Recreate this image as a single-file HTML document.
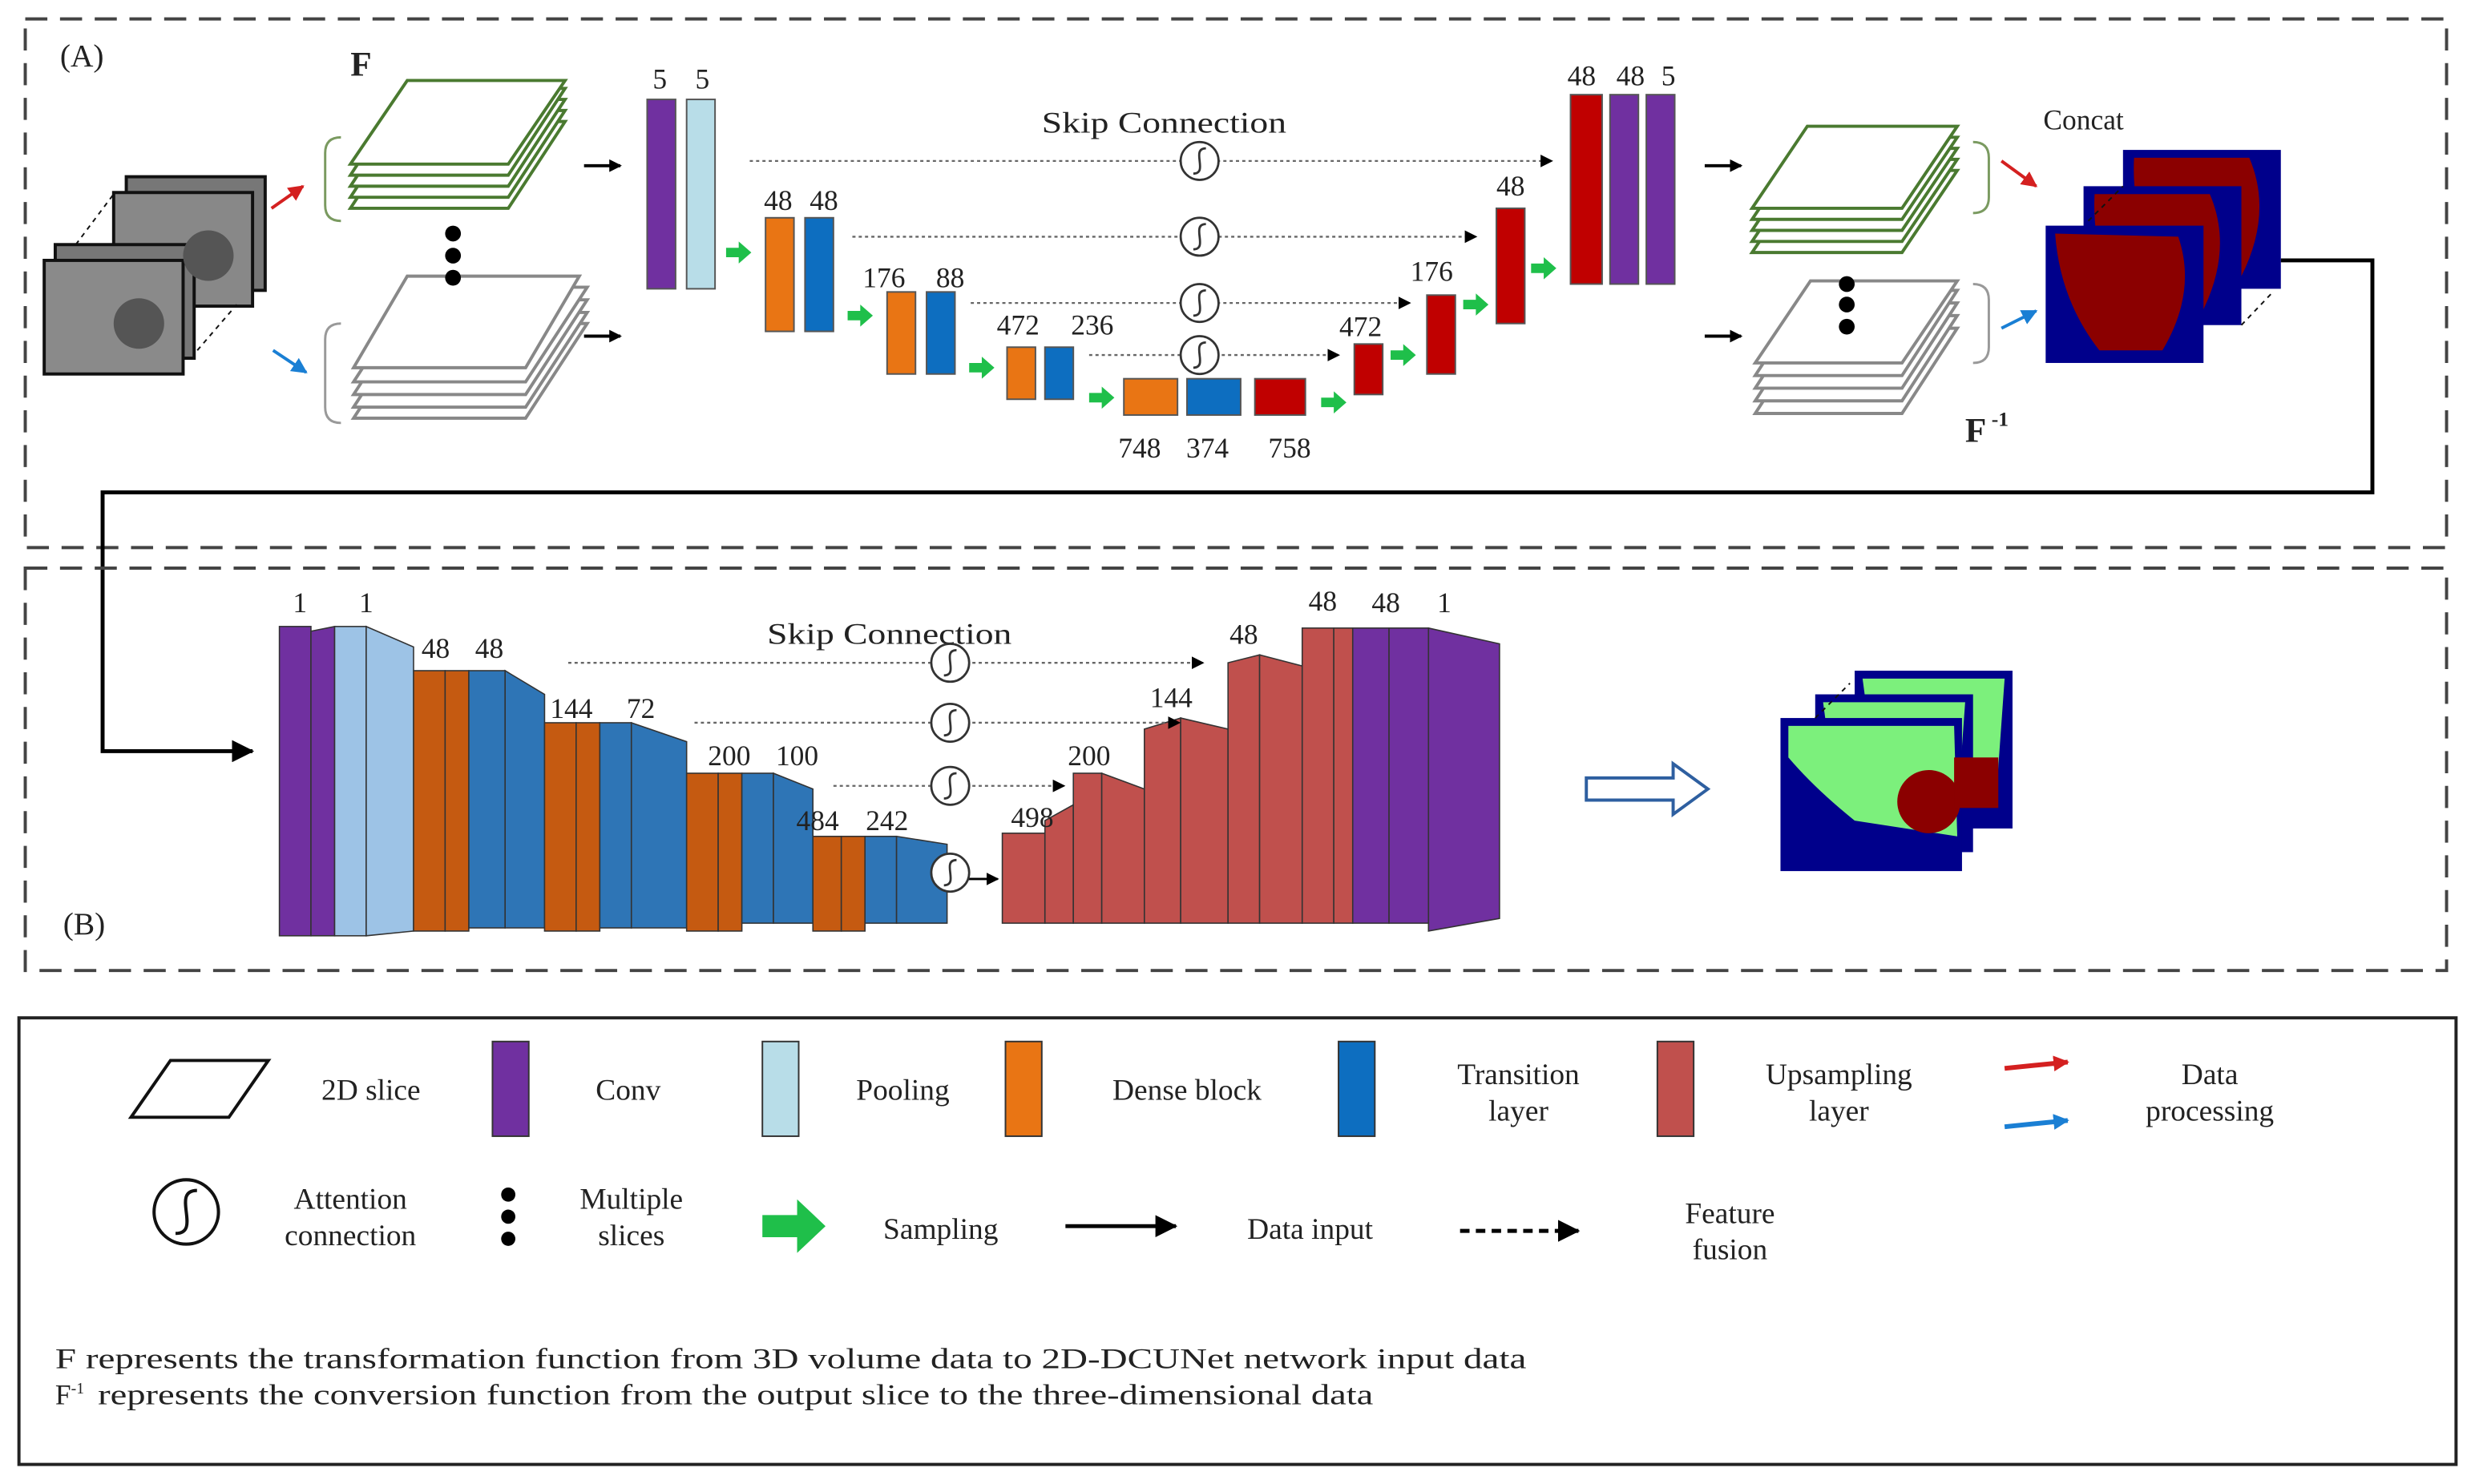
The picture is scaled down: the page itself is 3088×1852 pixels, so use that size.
<!DOCTYPE html>
<html><head><meta charset="utf-8"><style>
html,body{margin:0;padding:0;background:#fff;}
svg{display:block;}
text{font-family:"Liberation Serif",serif;fill:#222;}
</style></head><body>
<svg width="3088" height="1852" viewBox="0 0 1568 940.4" xmlns="http://www.w3.org/2000/svg">
<defs>
<marker id="ah" markerWidth="8" markerHeight="8" refX="7" refY="4" orient="auto" markerUnits="userSpaceOnUse"><path d="M0,0 L8,4 L0,8 z" fill="#000"/></marker>
<marker id="ahb" markerWidth="14" markerHeight="14" refX="13" refY="7" orient="auto" markerUnits="userSpaceOnUse"><path d="M0,0 L14,7 L0,14 z" fill="#000"/></marker>
<marker id="ahr" markerWidth="10" markerHeight="10" refX="9" refY="5" orient="auto" markerUnits="userSpaceOnUse"><path d="M0,0 L10,5 L0,10 z" fill="#d42020"/></marker>
<marker id="ahl" markerWidth="10" markerHeight="10" refX="9" refY="5" orient="auto" markerUnits="userSpaceOnUse"><path d="M0,0 L10,5 L0,10 z" fill="#1a7fd4"/></marker>
<g id="garrow"><path d="M0,-3 L8,-3 L8,-7 L16,0 L8,7 L8,3 L0,3 z" fill="#1fbf4a"/></g>
<g id="att"><circle r="12" fill="#fff" stroke="#333" stroke-width="1.4"/><path d="M4,-8 C-6,-8 6,8 -4,8" fill="none" stroke="#333" stroke-width="1.4"/></g>
</defs>

<rect x="16" y="12" width="1534" height="335" fill="none" stroke="#444" stroke-width="2" stroke-dasharray="14,8"/>
<text x="38" y="42" font-size="20">(A)</text>
<text x="222" y="48" font-size="22" font-weight="bold">F</text>

<g>
<rect x="80" y="112" width="88" height="72" fill="#777" stroke="#111" stroke-width="2"/>
<rect x="72" y="122" width="88" height="72" fill="#888" stroke="#111" stroke-width="2"/>
<rect x="35" y="155" width="88" height="72" fill="#777" stroke="#111" stroke-width="2"/>
<rect x="28" y="165" width="88" height="72" fill="#8a8a8a" stroke="#111" stroke-width="2"/>
<circle cx="88" cy="205" r="16" fill="#555"/><circle cx="132" cy="162" r="16" fill="#555"/>
<line x1="48" y1="155" x2="72" y2="123" stroke="#111" stroke-dasharray="3,3"/>
<line x1="125" y1="222" x2="150" y2="193" stroke="#111" stroke-dasharray="3,3"/>
</g>
<line x1="172" y1="132" x2="192" y2="118" stroke="#d42020" stroke-width="2" marker-end="url(#ahr)"/>
<line x1="173" y1="222" x2="194" y2="236" stroke="#1a7fd4" stroke-width="2" marker-end="url(#ahl)"/>

<g fill="#fff" stroke="#4a7a30" stroke-width="2">
<path d="M222,132 L322,132 L358,77 L258,77 z"/><path d="M222,125 L322,125 L358,70 L258,70 z"/><path d="M222,118 L322,118 L358,63 L258,63 z"/><path d="M222,111 L322,111 L358,56 L258,56 z"/><path d="M222,104 L322,104 L358,51 L258,51 z"/>
</g>
<path d="M216,87 Q206,87 206,97 L206,130 Q206,140 216,140" fill="none" stroke="#7a9a60" stroke-width="1.5"/>
<g fill="#fff" stroke="#888" stroke-width="2">
<path d="M224,265 L333,265 L372,205 L263,205 z"/><path d="M224,258 L333,258 L372,198 L263,198 z"/><path d="M224,250 L333,250 L372,190 L263,190 z"/><path d="M224,242 L333,242 L372,182 L263,182 z"/><path d="M224,233 L333,233 L367,175 L258,175 z"/>
</g>
<path d="M216,205 Q206,205 206,215 L206,258 Q206,268 216,268" fill="none" stroke="#999" stroke-width="1.5"/>
<g fill="#000"><circle cx="287" cy="148" r="5"/><circle cx="287" cy="162" r="5"/><circle cx="287" cy="176" r="5"/></g>
<line x1="370" y1="105" x2="393" y2="105" stroke="#000" stroke-width="2" marker-end="url(#ah)"/>
<line x1="370" y1="213" x2="393" y2="213" stroke="#000" stroke-width="2" marker-end="url(#ah)"/>

<g stroke="#555" stroke-width="1">
<rect x="410" y="63" width="18" height="120" fill="#7030a0"/><rect x="435" y="63" width="18" height="120" fill="#b8dde8"/>
<rect x="485" y="138" width="18" height="72" fill="#e97514"/><rect x="510" y="138" width="18" height="72" fill="#0d6ec0"/>
<rect x="562" y="185" width="18" height="52" fill="#e97514"/><rect x="587" y="185" width="18" height="52" fill="#0d6ec0"/>
<rect x="638" y="220" width="18" height="33" fill="#e97514"/><rect x="662" y="220" width="18" height="33" fill="#0d6ec0"/>
<rect x="712" y="240" width="34" height="23" fill="#e97514"/><rect x="752" y="240" width="34" height="23" fill="#0d6ec0"/>
<rect x="795" y="240" width="32" height="23" fill="#c00000"/>
</g>
<g stroke="#555" stroke-width="1">
<rect x="858" y="218" width="18" height="32" fill="#c00000"/>
<rect x="904" y="187" width="18" height="50" fill="#c00000"/>
<rect x="948" y="132" width="18" height="73" fill="#c00000"/>
<rect x="995" y="60" width="20" height="120" fill="#c00000"/><rect x="1020" y="60" width="18" height="120" fill="#7030a0"/><rect x="1043" y="60" width="18" height="120" fill="#7030a0"/>
</g>
<g>
<use href="#garrow" x="460" y="160"/><use href="#garrow" x="537" y="200"/><use href="#garrow" x="614" y="233"/><use href="#garrow" x="690" y="252"/>
<use href="#garrow" x="837" y="255"/><use href="#garrow" x="881" y="225"/><use href="#garrow" x="927" y="193"/><use href="#garrow" x="970" y="170"/>
</g>
<g font-size="18" text-anchor="middle">
<text x="418" y="56">5</text><text x="445" y="56">5</text>
<text x="493" y="133">48</text><text x="522" y="133">48</text>
<text x="560" y="182">176</text><text x="602" y="182">88</text>
<text x="645" y="212">472</text><text x="692" y="212">236</text>
<text x="722" y="290">748</text><text x="765" y="290">374</text><text x="817" y="290">758</text>
<text x="862" y="213">472</text><text x="907" y="178">176</text><text x="957" y="124">48</text>
<text x="1002" y="54">48</text><text x="1033" y="54">48</text><text x="1057" y="54">5</text>
</g>
<text x="660" y="84" font-size="19" textLength="155" lengthAdjust="spacingAndGlyphs">Skip Connection</text>
<g stroke="#666" stroke-width="1.2" stroke-dasharray="2,2">
<line x1="475" y1="102" x2="983" y2="102" marker-end="url(#ah)"/><line x1="540" y1="150" x2="935" y2="150" marker-end="url(#ah)"/>
<line x1="615" y1="192" x2="893" y2="192" marker-end="url(#ah)"/><line x1="690" y1="225" x2="848" y2="225" marker-end="url(#ah)"/>
</g>
<use href="#att" x="760" y="102"/><use href="#att" x="760" y="150"/><use href="#att" x="760" y="192"/><use href="#att" x="760" y="225"/>

<line x1="1080" y1="105" x2="1103" y2="105" stroke="#000" stroke-width="2" marker-end="url(#ah)"/>
<line x1="1080" y1="213" x2="1103" y2="213" stroke="#000" stroke-width="2" marker-end="url(#ah)"/>
<g fill="#fff" stroke="#4a7a30" stroke-width="2">
<path d="M1110,160 L1205,160 L1240,108 L1145,108 z"/><path d="M1110,153 L1205,153 L1240,101 L1145,101 z"/><path d="M1110,146 L1205,146 L1240,94 L1145,94 z"/><path d="M1110,139 L1205,139 L1240,87 L1145,87 z"/><path d="M1110,132 L1205,132 L1240,80 L1145,80 z"/>
</g>
<g fill="#fff" stroke="#888" stroke-width="2">
<path d="M1112,262 L1205,262 L1240,208 L1147,208 z"/><path d="M1112,254 L1205,254 L1240,200 L1147,200 z"/><path d="M1112,246 L1205,246 L1240,192 L1147,192 z"/><path d="M1112,238 L1205,238 L1240,184 L1147,184 z"/><path d="M1112,230 L1205,230 L1240,178 L1147,178 z"/>
</g>
<g fill="#000"><circle cx="1170" cy="180" r="5"/><circle cx="1170" cy="193" r="5"/><circle cx="1170" cy="207" r="5"/></g>
<path d="M1250,90 Q1260,90 1260,100 L1260,125 Q1260,135 1250,135" fill="none" stroke="#7a9a60" stroke-width="1.5"/>
<path d="M1250,180 Q1260,180 1260,190 L1260,220 Q1260,230 1250,230" fill="none" stroke="#999" stroke-width="1.5"/>
<line x1="1268" y1="102" x2="1290" y2="118" stroke="#d42020" stroke-width="2" marker-end="url(#ahr)"/>
<line x1="1268" y1="208" x2="1290" y2="197" stroke="#1a7fd4" stroke-width="2" marker-end="url(#ahl)"/>
<text x="1320" y="82" font-size="18" text-anchor="middle">Concat</text>
<g>
<rect x="1345" y="95" width="100" height="88" fill="#00008b"/><path d="M1352,100 L1425,100 Q1440,135 1420,175 L1370,170 Q1350,140 1352,100z" fill="#8b0000"/>
<rect x="1320" y="118" width="100" height="88" fill="#00008b"/><path d="M1327,123 L1400,123 Q1415,158 1395,198 L1345,193 Q1325,163 1327,123z" fill="#8b0000"/>
<rect x="1296" y="143" width="100" height="87" fill="#00008b"/><path d="M1302,148 L1380,150 Q1392,185 1370,222 L1330,222 Q1305,190 1302,148z" fill="#8b0000"/>
<line x1="1323" y1="140" x2="1345" y2="118" stroke="#111" stroke-dasharray="3,3"/><line x1="1420" y1="206" x2="1440" y2="185" stroke="#111" stroke-dasharray="3,3"/>
</g>
<text x="1245" y="280" font-size="22" font-weight="bold">F<tspan font-size="13" dy="-10"> -1</tspan></text>
<path d="M1445,165 L1503,165 L1503,312 L65,312 L65,476 L160,476" fill="none" stroke="#000" stroke-width="2.5" marker-end="url(#ahb)"/>

<rect x="16" y="360" width="1534" height="255" fill="none" stroke="#444" stroke-width="2" stroke-dasharray="14,8"/>
<text x="40" y="592" font-size="20">(B)</text>
<g stroke="#333" stroke-width="0.8">
<rect x="177" y="397" width="20" height="196" fill="#7030a0"/><path d="M197,400 L212,397 L212,593 L197,593z" fill="#7030a0"/>
<rect x="212" y="397" width="20" height="196" fill="#9dc3e6"/><path d="M232,397 L262,410 L262,590 L232,593z" fill="#9dc3e6"/>
<rect x="262" y="425" width="20" height="165" fill="#c55a11"/><rect x="282" y="425" width="15" height="165" fill="#c55a11"/>
<rect x="297" y="425" width="23" height="163" fill="#2e75b6"/><path d="M320,425 L345,440 L345,588 L320,588z" fill="#2e75b6"/>
<rect x="345" y="458" width="20" height="132" fill="#c55a11"/><rect x="365" y="458" width="15" height="132" fill="#c55a11"/>
<rect x="380" y="458" width="20" height="130" fill="#2e75b6"/><path d="M400,458 L435,470 L435,588 L400,588z" fill="#2e75b6"/>
<rect x="435" y="490" width="20" height="100" fill="#c55a11"/><rect x="455" y="490" width="15" height="100" fill="#c55a11"/>
<rect x="470" y="490" width="20" height="95" fill="#2e75b6"/><path d="M490,490 L515,500 L515,585 L490,585z" fill="#2e75b6"/>
<rect x="515" y="530" width="18" height="60" fill="#c55a11"/><rect x="533" y="530" width="15" height="60" fill="#c55a11"/>
<rect x="548" y="530" width="20" height="55" fill="#2e75b6"/><path d="M568,530 L600,535 L600,585 L568,585z" fill="#2e75b6"/>
</g>
<line x1="612" y1="557" x2="632" y2="557" stroke="#000" stroke-width="1.5" marker-end="url(#ah)"/>
<g stroke="#333" stroke-width="0.8">
<rect x="635" y="528" width="27" height="57" fill="#c0504d"/>
<path d="M662,520 L680,510 L680,585 L662,585z" fill="#c0504d"/><rect x="680" y="490" width="18" height="95" fill="#c0504d"/>
<path d="M698,490 L725,500 L725,585 L698,585z" fill="#c0504d"/>
<path d="M725,462 L748,455 L748,585 L725,585z" fill="#c0504d"/><path d="M748,455 L778,462 L778,585 L748,585z" fill="#c0504d"/>
<path d="M778,420 L798,415 L798,585 L778,585z" fill="#c0504d"/><path d="M798,415 L825,422 L825,585 L798,585z" fill="#c0504d"/>
<rect x="825" y="398" width="20" height="187" fill="#c0504d"/><rect x="845" y="398" width="12" height="187" fill="#c0504d"/>
<rect x="857" y="398" width="23" height="187" fill="#7030a0"/><rect x="880" y="398" width="25" height="187" fill="#7030a0"/>
<path d="M905,398 L950,408 L950,582 L905,590z" fill="#7030a0"/>
</g>
<g font-size="18" text-anchor="middle">
<text x="190" y="388">1</text><text x="232" y="388">1</text>
<text x="276" y="417">48</text><text x="310" y="417">48</text>
<text x="362" y="455">144</text><text x="406" y="455">72</text>
<text x="462" y="485">200</text><text x="505" y="485">100</text>
<text x="518" y="526">484</text><text x="562" y="526">242</text>
<text x="654" y="524">498</text><text x="690" y="485">200</text><text x="742" y="448">144</text>
<text x="788" y="408">48</text><text x="838" y="387">48</text><text x="878" y="388">48</text><text x="915" y="388">1</text>
</g>
<text x="486" y="408" font-size="19" textLength="155" lengthAdjust="spacingAndGlyphs">Skip Connection</text>
<g stroke="#666" stroke-width="1.2" stroke-dasharray="2,2">
<line x1="360" y1="420" x2="762" y2="420" marker-end="url(#ah)"/><line x1="440" y1="458" x2="747" y2="458" marker-end="url(#ah)"/>
<line x1="528" y1="498" x2="674" y2="498" marker-end="url(#ah)"/>
</g>
<use href="#att" x="602" y="420"/><use href="#att" x="602" y="458"/><use href="#att" x="602" y="498"/><use href="#att" x="602" y="553"/>
<path d="M1005,493 L1060,493 L1060,484 L1082,500 L1060,516 L1060,507 L1005,507 z" fill="#fff" stroke="#2e5fa0" stroke-width="2"/>
<g>
<rect x="1175" y="425" width="100" height="100" fill="#00008b"/><path d="M1180,430 L1270,430 L1265,500 L1190,505z" fill="#7cf07c"/>
<rect x="1150" y="440" width="100" height="100" fill="#00008b"/><path d="M1155,445 L1245,445 L1240,515 L1165,520z" fill="#7cf07c"/>
<rect x="1128" y="455" width="115" height="97" fill="#00008b"/><path d="M1133,460 L1238,460 L1240,530 L1175,520 Q1150,500 1133,480z" fill="#7cf07c"/>
<circle cx="1222" cy="508" r="20" fill="#8b0000"/><rect x="1238" y="480" width="28" height="32" fill="#8b0000"/>
<line x1="1150" y1="455" x2="1172" y2="433" stroke="#111" stroke-dasharray="3,3"/>
</g>

<rect x="12" y="645" width="1544" height="283" fill="#fff" stroke="#222" stroke-width="2"/>
<g font-size="19" text-anchor="middle">
<path d="M83,708 L145,708 L170,672 L108,672z" fill="#fff" stroke="#111" stroke-width="2"/><text x="235" y="697">2D slice</text>
<rect x="312" y="660" width="23" height="60" fill="#7030a0" stroke="#333"/><text x="398" y="697">Conv</text>
<rect x="483" y="660" width="23" height="60" fill="#b8dde8" stroke="#333"/><text x="572" y="697">Pooling</text>
<rect x="637" y="660" width="23" height="60" fill="#e97514" stroke="#333"/><text x="752" y="697">Dense block</text>
<rect x="848" y="660" width="23" height="60" fill="#0d6ec0" stroke="#333"/><text x="962" y="687">Transition</text><text x="962" y="710">layer</text>
<rect x="1050" y="660" width="23" height="60" fill="#c0504d" stroke="#333"/><text x="1165" y="687">Upsampling</text><text x="1165" y="710">layer</text>
<line x1="1270" y1="677" x2="1310" y2="673" stroke="#d42020" stroke-width="3" marker-end="url(#ahr)"/>
<line x1="1270" y1="714" x2="1310" y2="710" stroke="#1a7fd4" stroke-width="3" marker-end="url(#ahl)"/>
<text x="1400" y="687">Data</text><text x="1400" y="710">processing</text>
</g>
<g font-size="19" text-anchor="middle">
<g transform="translate(118,768) scale(1.7)"><circle r="12" fill="#fff" stroke="#111" stroke-width="1.2"/><path d="M4,-8 C-6,-8 6,8 -4,8" fill="none" stroke="#111" stroke-width="1.2"/></g>
<text x="222" y="766">Attention</text><text x="222" y="789">connection</text>
<circle cx="322" cy="757" r="4.5" fill="#000"/><circle cx="322" cy="771" r="4.5" fill="#000"/><circle cx="322" cy="785" r="4.5" fill="#000"/>
<text x="400" y="766">Multiple</text><text x="400" y="789">slices</text>
<path d="M483,770 L505,770 L505,760 L523,777 L505,794 L505,784 L483,784z" fill="#1fbf4a"/><text x="596" y="785">Sampling</text>
<line x1="675" y1="777" x2="745" y2="777" stroke="#000" stroke-width="2.5" marker-end="url(#ahb)"/><text x="830" y="785">Data input</text>
<line x1="925" y1="780" x2="1000" y2="780" stroke="#000" stroke-width="2.5" stroke-dasharray="6,4" marker-end="url(#ahb)"/>
<text x="1096" y="775">Feature</text><text x="1096" y="798">fusion</text>
</g>
<text x="35" y="867" font-size="18" textLength="932" lengthAdjust="spacingAndGlyphs">F   represents the transformation function from 3D volume data to 2D-DCUNet network input data</text>
<text x="35" y="890" font-size="18">F<tspan font-size="10" dy="-7">-1</tspan></text>
<text x="62" y="890" font-size="18" textLength="808" lengthAdjust="spacingAndGlyphs">represents the conversion function from the output slice to the three-dimensional data</text>
</svg>
</body></html>
